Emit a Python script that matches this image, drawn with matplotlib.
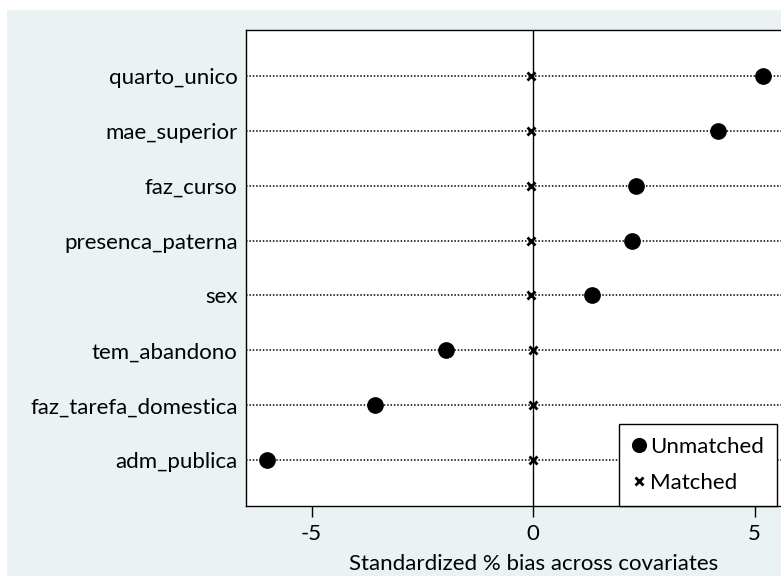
import matplotlib
matplotlib.use("Agg")
from matplotlib import pyplot as plt
from matplotlib.patches import Rectangle
import numpy as np

plt.rcParams['font.family'] = ['Lato', 'DejaVu Sans']

covariates = ["quarto_unico", "mae_superior", "faz_curso", "presenca_paterna",
              "sex", "tem_abandono", "faz_tarefa_domestica", "adm_publica"]
unmatched = [5.19, 4.18, 2.33, 2.23, 1.33, -1.96, -3.57, -6.0]
matched = [-0.05, -0.05, -0.05, -0.05, -0.05, 0.0, 0.0, 0.0]
xticks = [-5, 0, 5]

bg = "#EAF2F3"
W, H = 781, 576
fs = 16
fig = plt.figure(figsize=(W / 100, H / 100), dpi=100)
fig.patch.set_facecolor("white")
fig.patches.append(Rectangle((7 / W, 0), 1 - 7 / W, 1 - 10 / H, transform=fig.transFigure,
                             facecolor=bg, edgecolor="none", zorder=-10))

ax = fig.add_axes([246 / W, 1 - 506 / H, (821 - 246) / W, (506 - 30) / H])
ax.set_facecolor("white")

ypos = np.arange(len(covariates))[::-1] + 1
for y in ypos:
    ax.axhline(y, color="black", linestyle=(0, (1, 1.2)), linewidth=1.1, zorder=1)
ax.axvline(0, color="black", linewidth=1.0, zorder=1)

ax.plot(unmatched, ypos, linestyle="none", marker="o", markersize=11,
        color="black", label="Unmatched", zorder=3)
ax.plot(matched, ypos, linestyle="none", marker="x", markersize=6,
        markeredgewidth=2.0, color="black", label="Matched", zorder=3)

ax.set_xlim(-6.48, 6.5)
ax.set_ylim(0.17, 8.83)
ax.set_xticks(xticks)
ax.set_xticklabels([str(t) for t in xticks], fontsize=fs)
ax.set_yticks(ypos)
ax.set_yticklabels(covariates, fontsize=fs)
ax.tick_params(axis="y", length=0, pad=6)
ax.tick_params(axis="x", length=8, width=1, pad=5)
for s in ax.spines.values():
    s.set_linewidth(1.0)
    s.set_color("black")

ax.set_xlabel("Standardized % bias across covariates", fontsize=fs, labelpad=7)

leg = fig.legend(loc="lower right", bbox_to_anchor=(777 / W, 1 - 506 / H),
                 borderaxespad=0, fontsize=fs, fancybox=False, framealpha=1,
                 edgecolor="black", handlelength=0.6, handletextpad=0.2,
                 borderpad=0.6, labelspacing=0.7, markerscale=0.9)
leg.get_frame().set_linewidth(1.0)

fig.savefig("out.png", dpi=100, facecolor=fig.get_facecolor())
